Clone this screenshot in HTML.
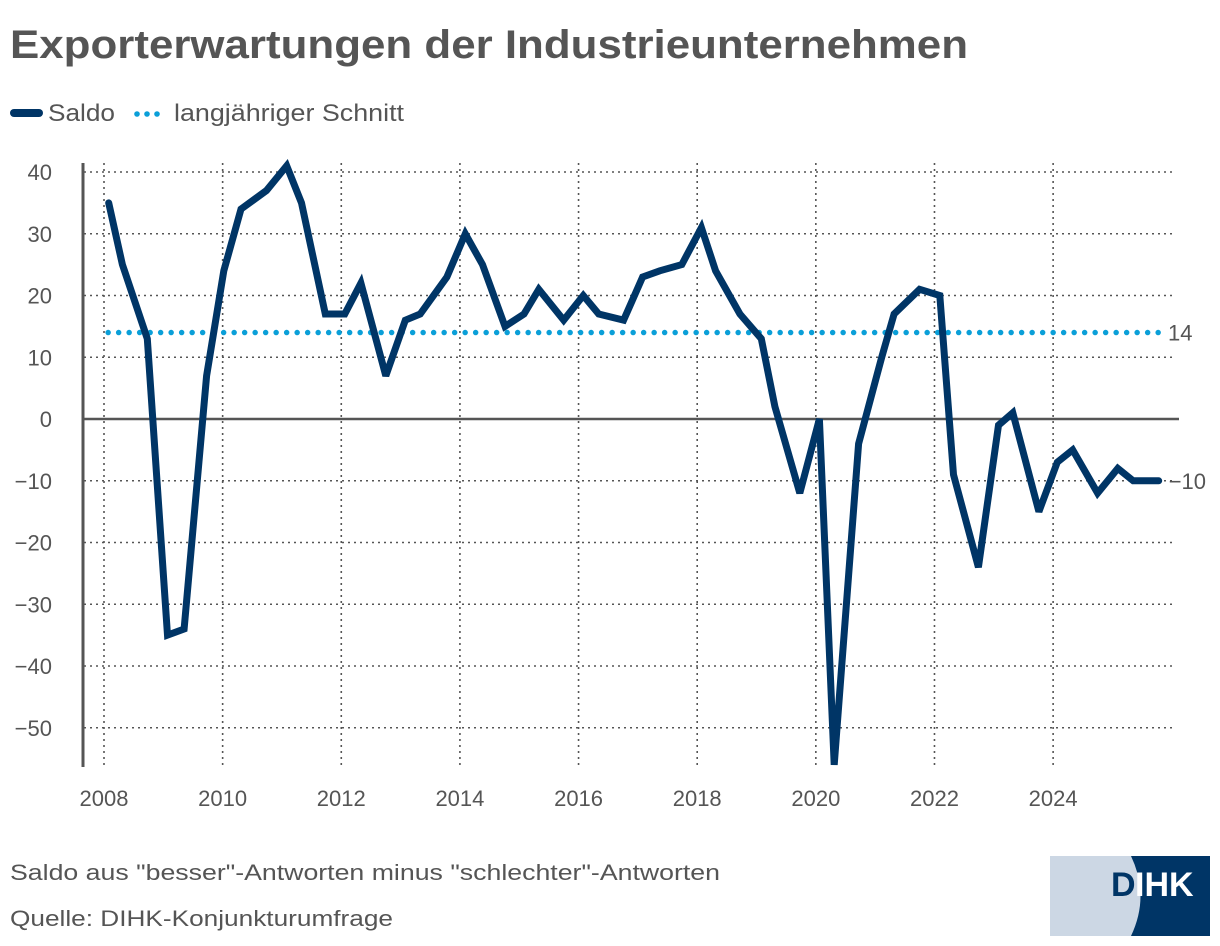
<!DOCTYPE html>
<html><head><meta charset="utf-8"><style>
html,body{margin:0;padding:0;background:#fff;}
svg{display:block;font-family:"Liberation Sans",sans-serif;}
</style></head><body>
<svg id="chart" width="1220" height="946" viewBox="0 0 1220 946">
  <text x="10" y="58" font-size="40" font-weight="bold" fill="#555" textLength="958" lengthAdjust="spacingAndGlyphs">Exporterwartungen der Industrieunternehmen</text>
  <g>
    <line x1="14" y1="113" x2="39" y2="113" stroke="#003566" stroke-width="8" stroke-linecap="round"/>
    <text x="48" y="121" font-size="24" fill="#555" textLength="67" lengthAdjust="spacingAndGlyphs">Saldo</text>
    <g fill="#0a9fd8">
      <circle cx="137" cy="114" r="2.8"/><circle cx="147" cy="114" r="2.8"/><circle cx="157" cy="114" r="2.8"/>
    </g>
    <text x="174" y="121" font-size="24" fill="#555" textLength="230" lengthAdjust="spacingAndGlyphs">langjähriger Schnitt</text>
  </g>
  <g id="grid"></g>
  <g id="axes"></g>
  <g id="series"></g>
  <text x="10" y="880" font-size="22" fill="#555" textLength="710" lengthAdjust="spacingAndGlyphs">Saldo aus "besser"-Antworten minus "schlechter"-Antworten</text>
  <text x="10" y="926" font-size="22" fill="#555" textLength="383" lengthAdjust="spacingAndGlyphs">Quelle: DIHK-Konjunkturumfrage</text>
  <g>
    <defs><clipPath id="logoclip"><rect x="1050" y="856" width="160" height="80"/></clipPath></defs>
    <g clip-path="url(#logoclip)">
      <rect x="1050" y="856" width="160" height="80" fill="#ccd7e4"/>
      <path d="M1131 856 Q1150 896 1131 936 L1210 936 L1210 856 Z" fill="#003566"/>
    </g>
    <text x="1111" y="896" font-size="34" font-weight="bold" fill="#003566">D</text>
    <text x="1135" y="896" font-size="34" font-weight="bold" fill="#fff">IHK</text>
  </g>
</svg>
<script>
const dates = [2008.08,2008.31,2008.73, 2009.07,2009.35,2009.73, 2010.02,2010.31,2010.74, 2011.08,2011.33,2011.73,
  2012.06,2012.33,2012.75, 2013.08,2013.33,2013.78, 2014.09,2014.38,2014.76, 2015.08,2015.33,2015.75,
  2016.08,2016.34,2016.76, 2017.08,2017.37,2017.74, 2018.07,2018.31,2018.72, 2019.08,2019.31,2019.73,
  2020.06,2020.31,2020.72, 2021.11,2021.32,2021.75, 2022.09,2022.32,2022.74, 2023.08,2023.32,2023.76,
  2024.07,2024.33,2024.75, 2025.09,2025.35,2025.78];
const saldo = [35,25,13, -35,-34,7, 24,34,37, 41,35,17, 17,22,7, 16,17,23, 30,25,15, 17,21,16,
  20,17,16, 23,24,25, 31,24,17, 13,2,-12, 0,-56,-4, 10,17,21, 20,-9,-24, -1,1,-15, -7,-5,-12, -8,-10,-10];
const average = [14];
const yTicks = [40,30,20,10,0,-10,-20,-30,-40,-50];
const xTicks = [2008,2010,2012,2014,2016,2018,2020,2022,2024];
const avgStart = [2008.07];
const avgEnd = [2025.8];

const NS = "http://www.w3.org/2000/svg";
function X(yr){ return 104 + (yr - 2008) * 59.32; }
function Y(v){ return 419 - v * 6.175; }
function mk(tag, attrs, parent){ const e = document.createElementNS(NS, tag); for (const k in attrs) e.setAttribute(k, attrs[k]); parent.appendChild(e); return e; }
const grid = document.getElementById('grid'), axes = document.getElementById('axes'), series = document.getElementById('series');

yTicks.forEach(t => {
  if (t !== 0) {
    const l = mk('line', {x1:84, x2:1172, y1:Y(t), y2:Y(t), stroke:'#555', 'stroke-width':1.6, 'stroke-dasharray':'2 4'}, grid);
    
    
  }
  const tx = mk('text', {x:52, y:Y(t)+8, 'font-size':22, fill:'#555', 'text-anchor':'end'}, axes);
  tx.textContent = t < 0 ? '\u2212' + Math.abs(t) : String(t);
  
  
});
xTicks.forEach(t => {
  const l = mk('line', {x1:X(t), x2:X(t), y1:163, y2:766, stroke:'#555', 'stroke-width':1.6, 'stroke-dasharray':'2 4'}, grid);
  
  
  const tx = mk('text', {x:X(t), y:806, 'font-size':22, fill:'#555', 'text-anchor':'middle'}, axes);
  tx.textContent = String(t);
  
  
});
const ya = mk('line', {x1:83, x2:83, y1:163, y2:767, stroke:'#555', 'stroke-width':3}, axes);


const zl = mk('line', {x1:83, x2:1179, y1:Y(0), y2:Y(0), stroke:'#555', 'stroke-width':2.5}, axes);



const avg = mk('line', {x1:X(avgStart[0]), x2:X(avgEnd[0]), y1:Y(average[0]), y2:Y(average[0]), stroke:'#0a9fd8', 'stroke-width':5.5, 'stroke-linecap':'round', 'stroke-dasharray':'0 10.5'}, series);


const al = mk('text', {x:1168, y:Y(average[0])+8, 'font-size':22, fill:'#555'}, series);
al.textContent = String(average[0]);



const pts = dates.map((d,i) => X(d).toFixed(1) + ',' + Y(saldo[i]).toFixed(1)).join(' ');
const pl = mk('polyline', {points:pts, fill:'none', stroke:'#003566', 'stroke-width':7, 'stroke-linejoin':'miter', 'stroke-miterlimit':3, 'stroke-linecap':'round'}, series);


const last = saldo[saldo.length-1];
const ll = mk('text', {x:X(dates[dates.length-1])+10, y:Y(last)+8, 'font-size':22, fill:'#555'}, series);
ll.textContent = last < 0 ? '\u2212' + Math.abs(last) : String(last);


</script>
</body></html>
